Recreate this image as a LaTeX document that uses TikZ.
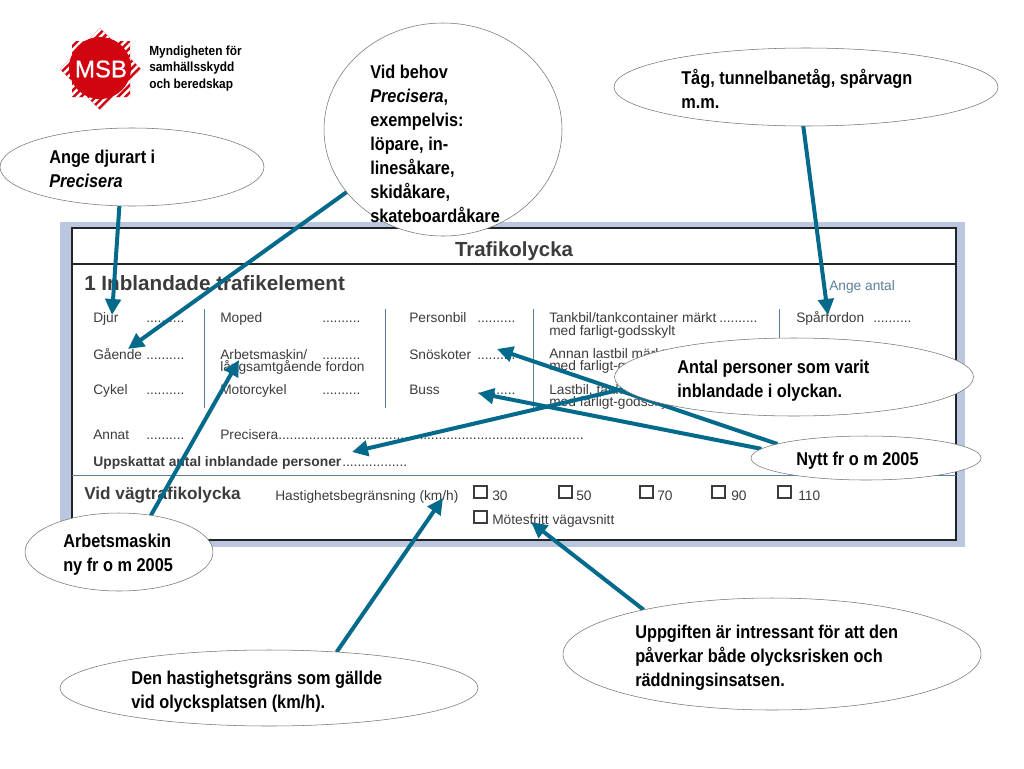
\documentclass[tikz,border=0pt]{standalone}
\usepackage{fontspec}
\setmainfont{Liberation Sans}
\newfontfamily\callfont[FakeStretch=0.88]{Liberation Sans}
\newfontfamily\logofont[FakeStretch=0.9]{Liberation Sans}
\newfontfamily\msbfont[FakeBold=0.7]{Liberation Sans}
\usetikzlibrary{arrows.meta,shapes.geometric}
\definecolor{teal1}{HTML}{046A8C}
\definecolor{frameblue}{HTML}{BBC7DE}
\definecolor{formtxt}{HTML}{3C3C3C}
\definecolor{framek}{HTML}{222428}
\definecolor{rulec}{HTML}{5A7F9E}
\definecolor{msbred}{HTML}{D0050F}
\pgfdeclarelayer{formlayer}
\pgfdeclarelayer{arrowlayer}
\pgfsetlayers{formlayer,arrowlayer,main}
\tikzset{
  x=0.75pt,y=-0.75pt,
  callout/.style={draw=black!55,line width=0.4pt,fill=white,ellipse,inner sep=0,outer sep=0},
  calltxt/.style={inner sep=0,anchor=north west,align=left,font=\callfont\fontsize{13.9}{18}\selectfont\bfseries,text=black},
  ftxt/.style={inner sep=0,anchor=base west,font=\fontsize{10.3}{10.3}\selectfont,text=formtxt},
  fbold/.style={inner sep=0,anchor=base west,font=\fontsize{10.4}{10.4}\selectfont\bfseries,text=formtxt},
  fhead/.style={inner sep=0,anchor=base west,font=\fontsize{15.5}{15.5}\selectfont\bfseries,text=formtxt},
  arr/.style={draw=teal1,line width=3pt,-{Triangle[length=12pt,width=11.5pt]}},
  chk/.style={draw=formtxt,line width=1pt,fill=white},
  vsep/.style={draw=rulec,line width=0.6pt},
}
\begin{document}
\begin{tikzpicture}
\useasboundingbox (0,0) rectangle (1024,768);
\begin{pgfonlayer}{formlayer}
\fill[white] (0,0) rectangle (1024,768);
\fill[frameblue] (60,222) rectangle (965,547);
\fill[white] (72,228) rectangle (956,540);
\draw[framek,line width=2pt] (72,228) rectangle (956,540);
\draw[framek,line width=1.3pt] (72,264) -- (956,264);
\draw[rulec,line width=0.5pt] (72,475) -- (956,475);
\node[inner sep=0,anchor=base,font=\fontsize{15.3}{15.3}\selectfont\bfseries,text=formtxt] (title) at (514,256) {Trafikolycka};
\node[fhead] (h1) at (84,290) {1 Inblandade trafikelement};
\node[ftxt,text=rulec] (ange) at (829,290) {Ange antal};
\draw[vsep] (204,309) -- (204,408);
\draw[vsep] (385,309) -- (385,408);
\draw[vsep] (533,309) -- (533,408);
\draw[vsep] (779,309) -- (779,345);
\node[ftxt] (a1) at (93,322) {Djur};
\node[ftxt] (a1d) at (146,322) {..........};
\node[ftxt] (a2) at (93,359) {Gående};
\node[ftxt] (a2d) at (146,359) {..........};
\node[ftxt] (a3) at (93,394) {Cykel};
\node[ftxt] (a3d) at (146,394) {..........};
\node[ftxt] (a4) at (93,439) {Annat};
\node[ftxt] (a4d) at (146,439) {..........};
\node[ftxt] (b1) at (220,322) {Moped};
\node[ftxt] (b1d) at (322,322) {..........};
\node[ftxt] (b2) at (220,359) {Arbetsmaskin/};
\node[ftxt] (b2d) at (322,359) {..........};
\node[ftxt] (b2b) at (220,371) {långsamtgående fordon};
\node[ftxt] (b3) at (220,394) {Motorcykel};
\node[ftxt] (b3d) at (322,394) {..........};
\node[ftxt] (b4) at (220,439) {Precisera................................................................................};
\node[ftxt] (c1) at (409,322) {Personbil};
\node[ftxt] (c1d) at (477,322) {..........};
\node[ftxt] (c2) at (409,359) {Snöskoter};
\node[ftxt] (c2d) at (477,359) {..........};
\node[ftxt] (c3) at (409,394) {Buss};
\node[ftxt] (c3d) at (477,394) {..........};
\node[ftxt] (d1) at (549,322) {Tankbil/tankcontainer märkt};
\node[ftxt] (d1d) at (719,322) {..........};
\node[ftxt] (d1b) at (549,335) {med farligt-godsskylt};
\node[ftxt] (d2) at (549,358) {Annan lastbil märkt};
\node[ftxt] (d2b) at (549,370) {med farligt-godsskylt};
\node[ftxt] (d3) at (549,394) {Lastbil, tankbil};
\node[ftxt] (d3b) at (549,406) {med farligt-godsskylt};
\node[ftxt] (e1) at (796,322) {Spårfordon};
\node[ftxt] (e1d) at (873,322) {..........};
\node[fbold] (u) at (93,466) {Uppskattat antal inblandade personer};
\node[ftxt] (ud) at (342,466) {.................};
\node[fhead,font=\fontsize{12.9}{12.9}\selectfont\bfseries] (v) at (84,499) {Vid vägtrafikolycka};
\node[ftxt] (hb) at (275,500) {Hastighetsbegränsning (km/h)};
\draw[chk] (474,486) rectangle (487,498);
\node[ftxt] (s30) at (492,500) {30};
\draw[chk] (559,486) rectangle (572,498);
\node[ftxt] (s50) at (576,500) {50};
\draw[chk] (640,486) rectangle (653,498);
\node[ftxt] (s70) at (657,500) {70};
\draw[chk] (712,486) rectangle (725,498);
\node[ftxt] (s90) at (731,500) {90};
\draw[chk] (778,486) rectangle (791,498);
\node[ftxt] (s110) at (798,500) {110};
\draw[chk] (474,511) rectangle (487,523);
\node[ftxt] (mv) at (492,524) {Mötesfritt vägavsnitt};
% logo
\begin{scope}
\clip (72,41) -- (130,41) -- (130,97) -- (72,97) -- cycle (100,28) -- (141,69) -- (100,110) -- (60,69) -- cycle;
\fill[msbred] (50,20) rectangle (150,115);
\foreach \k in {0,1,...,22}{
  \draw[white,line width=1.9pt] (-10+\k*7.4,125) -- (-10+\k*7.4+110,15);
}
\end{scope}
\fill[msbred] (100,68) circle[radius=31];
\node[inner sep=0,text=white,font=\msbfont\fontsize{18}{18}\selectfont] (msb) at (101,69) {MSB};
\node[inner sep=0,anchor=north west,align=left,text=black,font=\logofont\fontsize{9.9}{12.4}\selectfont\bfseries] (lg) at (149,43.5) {\strut Myndigheten för\\samhällsskydd\\och beredskap};
\end{pgfonlayer}
% callouts
\node[callout,minimum width=198pt,minimum height=58.5pt] (e1c) at (132,167) {};
\node[callout,minimum width=178.5pt,minimum height=159.75pt] (e2c) at (443,129.5) {};
\node[callout,minimum width=288pt,minimum height=58.5pt] (e3c) at (806,87) {};
\node[callout,minimum width=269.25pt,minimum height=58.5pt] (e4c) at (794,377) {};
\node[callout,minimum width=172.5pt,minimum height=33pt] (e5c) at (866,458) {};
\node[callout,minimum width=141pt,minimum height=58.5pt] (e6c) at (119,552) {};
\node[callout,minimum width=313.5pt,minimum height=57pt] (e7c) at (269,688) {};
\node[callout,minimum width=313.5pt,minimum height=84pt] (e8c) at (772,654) {};
% callout texts
\node[calltxt] (t1) at (49,146) {\strut Ange djurart i\\\textit{Precisera}};
\node[calltxt] (t2) at (370,61) {\strut Vid behov\\\textit{Precisera},\\exempelvis:\\löpare, in-\\linesåkare,\\skidåkare,\\skateboardåkare};
\node[calltxt] (t3) at (681,67) {\strut Tåg, tunnelbanetåg, spårvagn\\m.m.};
\node[calltxt] (t4) at (677,356) {\strut Antal personer som varit\\inblandade i olyckan.};
\node[calltxt] (t5) at (796,448) {\strut Nytt fr o m 2005};
\node[calltxt] (t6) at (63,530) {\strut Arbetsmaskin\\ny fr o m 2005};
\node[calltxt] (t7) at (131,667) {\strut Den hastighetsgräns som gällde\\vid olycksplatsen (km/h).};
\node[calltxt] (t8) at (635,621) {\strut Uppgiften är intressant för att den\\påverkar både olycksrisken och\\räddningsinsatsen.};
% connector targets
\coordinate (tdjur) at (112,315);
\coordinate (tgaende) at (128,349);
\coordinate (tarb) at (239,360);
\coordinate (tspar) at (828,315);
\coordinate (tsno) at (497,349);
\coordinate (tbuss) at (478,393);
\coordinate (tupp) at (352,452);
\coordinate (tkm) at (443,498);
\coordinate (tmot) at (531,522);
\begin{pgfonlayer}{arrowlayer}
\draw[arr] (e1c.-108) -- (tdjur);
\draw[arr] (e2c.213) -- (tgaende);
\draw[arr] (e3c.-94) -- (tspar);
\draw[arr] (e4c.184) -- (tupp);
\draw[arr] (e5c.171.5) -- (tsno);
\draw[arr] (e5c.175) -- (tbuss);
\draw[arr] (e6c.49) -- (tarb);
\draw[arr] (e7c.28.5) -- (tkm);
\draw[arr] (e8c.161.5) -- (tmot);
\end{pgfonlayer}
\end{tikzpicture}
\end{document}
